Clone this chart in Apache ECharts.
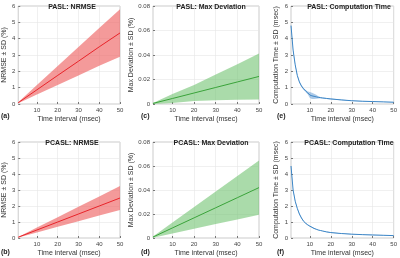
<!DOCTYPE html>
<html><head><meta charset="utf-8">
<script src="https://cdn.jsdelivr.net/npm/echarts@6/dist/echarts.min.js"></script>
<style>html,body{margin:0;padding:0;background:#fff}#c{width:400px;height:258px}</style>
</head><body><div id="c"></div>
<script>
// ---- data ----
const linX = [1, 10, 20, 30, 40, 50];
const paslNrmseMean = [0.08, 0.87, 1.75, 2.62, 3.5, 4.35];
const paslNrmseSD   = [0.03, 0.29, 0.58, 0.87, 1.16, 1.45];
const pcaslNrmseMean = [0.05, 0.5, 1.0, 1.5, 2.0, 2.5];
const pcaslNrmseSD   = [0.015, 0.15, 0.3, 0.45, 0.6, 0.75];
const paslMaxDevMean = [0.0005, 0.0045, 0.009, 0.0135, 0.018, 0.0225];
const paslMaxDevSD   = [0.0004, 0.0037, 0.0065, 0.0105, 0.0145, 0.0188];
const pcaslMaxDevMean = [0.0008, 0.0084, 0.0168, 0.0252, 0.0336, 0.042];
const pcaslMaxDevSD   = [0.0005, 0.0046, 0.0091, 0.0136, 0.0181, 0.0226];
const ctX = [1,2,3,4,5,6,7,8,9,10,11,12,13,14,15,16,18,20,25,30,35,40,45,50];
const paslCtMean = [4.8,3.3,2.4,1.75,1.35,1.1,0.93,0.8,0.68,0.55,0.5,0.47,0.44,0.41,0.39,0.37,0.34,0.31,0.25,0.2,0.17,0.15,0.13,0.11];
const paslCtSD   = [0.08,0.07,0.06,0.05,0.05,0.05,0.05,0.06,0.08,0.19,0.19,0.16,0.12,0.07,0.04,0.03,0.03,0.03,0.02,0.02,0.02,0.015,0.015,0.015];
const pcaslCtMean = [4.5,3.0,2.3,1.85,1.5,1.25,1.05,0.92,0.82,0.74,0.67,0.6,0.55,0.5,0.47,0.44,0.38,0.34,0.28,0.24,0.21,0.19,0.17,0.15];
const pcaslCtSD   = [0.06,0.05,0.05,0.04,0.04,0.04,0.03,0.03,0.03,0.03,0.03,0.03,0.02,0.02,0.02,0.02,0.02,0.02,0.02,0.015,0.015,0.015,0.015,0.015];
const xTicks = [10, 20, 30, 40, 50];
const titles = ['PASL: NRMSE','PASL: Max Deviation','PASL: Computation Time','PCASL: NRMSE','PCASL: Max Deviation','PCASL: Computation Time'];
const yNames = ['NRMSE \u00b1 SD (%)','Max Deviation \u00b1 SD (%)','Computation Time \u00b1 SD (msec)'];
const panelTags = ['(a)','(c)','(e)','(b)','(d)','(f)'];
const xName = 'Time interval (msec)';

const panels = [
  {x: linX, m: paslNrmseMean, s: paslNrmseSD, kind: 0},
  {x: linX, m: paslMaxDevMean, s: paslMaxDevSD, kind: 1},
  {x: ctX, m: paslCtMean, s: paslCtSD, kind: 2},
  {x: linX, m: pcaslNrmseMean, s: pcaslNrmseSD, kind: 0},
  {x: linX, m: pcaslMaxDevMean, s: pcaslMaxDevSD, kind: 1},
  {x: ctX, m: pcaslCtMean, s: pcaslCtSD, kind: 2}
];
const colors = [
  {line:'#e8242a', band:'rgba(238,100,100,0.65)'},
  {line:'#3aa33a', band:'rgba(100,190,100,0.55)'},
  {line:'#3d86c6', band:'rgba(90,150,210,0.5)'}
];
const lefts = [14, 153, 291];
const tops = [6, 142];
const W = 106, H = 98;
const nameGaps = [9, 17, 11];

const grid = [], xAxis = [], yAxis = [], series = [], title = [], graphic = [];
panels.forEach((p, i) => {
  const col = i % 3, row = Math.floor(i / 3);
  grid.push({left: lefts[col], top: tops[row], width: W, height: H, show: true, borderColor: '#b5b5b5', borderWidth: 0.7, backgroundColor: 'transparent'});
  xAxis.push({type: 'value', gridIndex: i, min: 1, max: 50,
    name: xName, nameLocation: 'middle', nameGap: 12, nameTextStyle: {fontSize: 7, color: '#333', fontFamily: 'Liberation Sans'},
    axisLine: {show: false}, axisTick: {show: true, inside: true, length: 2, customValues: xTicks, lineStyle: {color: '#777'}},
    axisLabel: {customValues: xTicks, fontSize: 6, color: '#444', margin: 3, fontFamily: 'Liberation Sans'},
    splitLine: {show: true, lineStyle: {color: '#e6e6e6', width: 0.6}}});
  const isDev = p.kind === 1;
  yAxis.push({type: 'value', gridIndex: i, min: 0, max: isDev ? 0.08 : 6, interval: isDev ? 0.02 : 1,
    name: yNames[p.kind], nameLocation: 'middle', nameGap: nameGaps[col], nameTextStyle: {fontSize: 7, color: '#333', fontFamily: 'Liberation Sans'},
    axisLine: {show: false}, axisTick: {show: true, inside: true, length: 2, lineStyle: {color: '#777'}},
    axisLabel: {fontSize: 6, color: '#444', margin: 3, fontFamily: 'Liberation Sans'},
    splitLine: {show: true, lineStyle: {color: '#e6e6e6', width: 0.6}}});
  const c = colors[p.kind];
  const band = p.x.map((x, k) => [x, p.m[k] - p.s[k], p.m[k] + p.s[k]]);
  const mean = p.x.map((x, k) => [x, p.m[k]]);
  series.push({type: 'custom', xAxisIndex: i, yAxisIndex: i, data: band, encode: {x: 0, y: [1, 2]}, silent: true, z: 2,
    renderItem: (params, api) => {
      if (params.dataIndex !== 0) return null;
      const pts = [];
      for (let k = 0; k < band.length; k++) pts.push(api.coord([band[k][0], band[k][2]]));
      for (let k = band.length - 1; k >= 0; k--) pts.push(api.coord([band[k][0], band[k][1]]));
      return {type: 'polygon', shape: {points: pts, smooth: 0}, style: {fill: c.band}};
    }});
  series.push({type: 'line', xAxisIndex: i, yAxisIndex: i, data: mean, symbol: 'none', lineStyle: {color: c.line, width: 1}, z: 3});
  title.push({text: titles[i], left: lefts[col] + W / 2, top: tops[row] - 7, textAlign: 'center',
    textStyle: {fontSize: 7, fontWeight: 'bold', color: '#222', fontFamily: 'Liberation Sans'}});
  graphic.push({type: 'text', left: [1, 141, 277][col], top: tops[row] + H + 9,
    style: {text: panelTags[i], font: 'bold 7px Liberation Sans', fill: '#222'}});
});

const chart = echarts.init(document.getElementById('c'), null, {renderer: 'canvas'});
chart.setOption({animation: false, grid, xAxis, yAxis, series, title, graphic});
</script></body></html>
